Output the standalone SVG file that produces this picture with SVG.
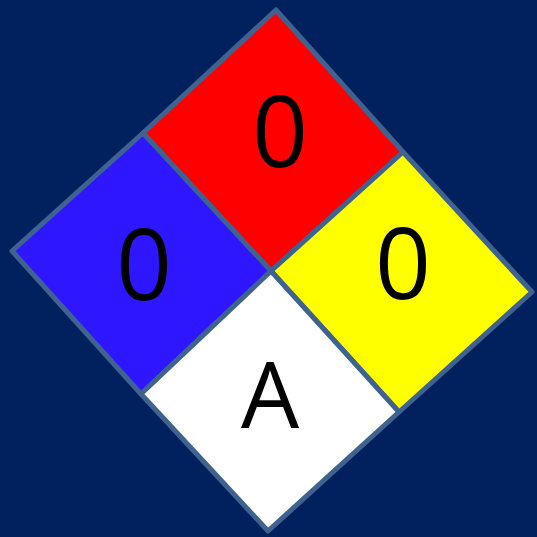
<svg xmlns="http://www.w3.org/2000/svg" width="537" height="537" viewBox="0 0 537 537">
<style>
.q{stroke:#3F6391;stroke-width:5;stroke-linejoin:round}
.t{font-family:"Open Sans","Noto Sans",sans-serif;font-size:98px;fill:#000;text-anchor:middle}
.a{font-size:92px}
</style>
<rect width="537" height="537" fill="#00215E"/>
<g id="flammability">
<polygon class="q" fill="#FF0000" points="276,10 403,152 271,271 143,133"/>
<text class="t" x="280" y="167">0</text>
</g>
<g id="health">
<polygon class="q" fill="#2E17FF" points="143,133 271,271 141,394 12,251"/>
<text class="t" x="144" y="300">0</text>
</g>
<g id="instability">
<polygon class="q" fill="#FFFF00" points="403,152 532,292 399,412 271,271"/>
<text class="t" x="403" y="299">0</text>
</g>
<g id="special">
<polygon class="q" fill="#FFFFFF" points="271,271 399,412 268,531 141,394"/>
<text class="t a" x="270" y="428">A</text>
</g>
</svg>
